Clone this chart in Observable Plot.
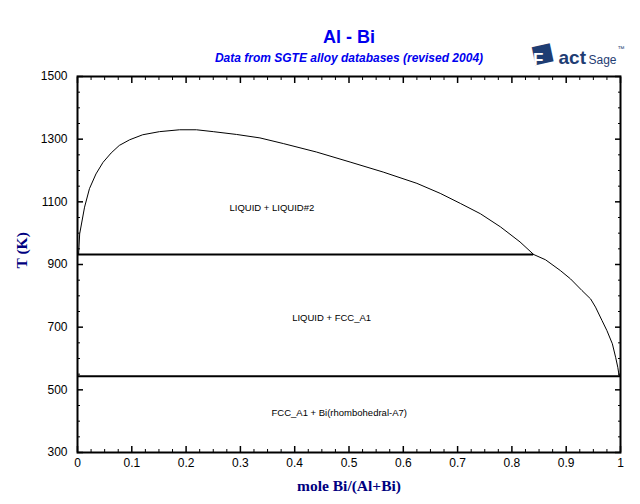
<!DOCTYPE html>
<html><head><meta charset="utf-8">
<script src="https://cdn.jsdelivr.net/npm/d3@7"></script>
<script src="https://cdn.jsdelivr.net/npm/@observablehq/plot@0.6"></script>
<style>body{margin:0;background:#fff}</style>
</head><body><div id="chart"></div>
<script>
// Miscibility gap (LIQUID + LIQUID#2) boundary
const gapX = [0.002, 0.004, 0.013, 0.022, 0.034, 0.047, 0.062, 0.077, 0.096, 0.12, 0.151, 0.188, 0.219, 0.25, 0.293, 0.336, 0.379, 0.44, 0.502, 0.563, 0.625, 0.668, 0.705, 0.742, 0.779, 0.815, 0.84];
const gapT = [932, 998, 1083, 1142, 1189, 1226, 1256, 1280, 1298, 1314, 1324, 1330, 1330, 1324, 1315, 1304, 1286, 1259, 1227, 1195, 1159, 1127, 1095, 1062, 1020, 972, 932];
// Liquidus below the monotectic
const liqX = [0.84, 0.862, 0.889, 0.908, 0.929, 0.945, 0.954, 0.966, 0.975, 0.985, 0.991, 0.995, 0.997, 0.998];
const liqT = [932, 915, 881, 854, 817, 790, 764, 721, 689, 647, 604, 572, 550, 543];
// Invariant lines
const invT = [932, 543];
const invX1 = [0, 0];
const invX2 = [0.84, 1];
// Region labels
const regionLabels = ["LIQUID + LIQUID#2", "LIQUID + FCC_A1", "FCC_A1 + Bi(rhombohedral-A7)"];
const regionX = [0.358, 0.468, 0.482];
const regionT = [1081, 729, 425];
// Ticks
const xTicks = [0, 0.1, 0.2, 0.3, 0.4, 0.5, 0.6, 0.7, 0.8, 0.9, 1];
const xMinor = d3.range(0, 41).map(i => i / 40).filter(v => Math.round(v * 40) % 4 !== 0);
const yTicks = [300, 500, 700, 900, 1100, 1300, 1500];
const yMinor = d3.range(300, 1501, 50).filter(v => (v - 300) % 200 !== 0);
const titleText = "Al - Bi";
const subtitleText = "Data from SGTE alloy databases (revised 2004)";
const xLabel = "mole Bi/(Al+Bi)";
const yLabel = "T (K)";

const gap = gapX.map((x, i) => ({x, T: gapT[i]}));
const liq = liqX.map((x, i) => ({x, T: liqT[i]}));
const inv = invT.map((T, i) => ({T, x1: invX1[i], x2: invX2[i]}));
const regions = regionLabels.map((t, i) => ({t, x: regionX[i], T: regionT[i]}));

const tickColor = "black";
const navy = "#000080";
const logo = "#1f3d73";
const sans = "Liberation Sans, Arial, sans-serif";
const serif = "Liberation Serif, Times New Roman, serif";

const chart = Plot.plot({
  width: 640, height: 504,
  marginLeft: 77, marginRight: 20, marginTop: 76, marginBottom: 52,
  style: {fontSize: "12px", fontFamily: sans, background: "white"},
  x: {domain: [0, 1], label: null},
  y: {domain: [300, 1500], label: null},
  marks: [
    Plot.ruleY(inv, {y: "T", x1: "x1", x2: "x2", stroke: "black", strokeWidth: 2}),
    Plot.line(gap, {x: "x", y: "T", stroke: "black", strokeWidth: 1, curve: "linear"}),
    Plot.line(liq, {x: "x", y: "T", stroke: "black", strokeWidth: 1, curve: "linear"}),
    Plot.text(regions, {x: "x", y: "T", text: "t", fontSize: 9.5, fill: "black", fontFamily: sans}),
    // tick labels
    Plot.axisX(xTicks, {anchor: "bottom", tickSize: 0, tickPadding: 6, label: null, tickFormat: d => String(+d.toFixed(1)), fontSize: 12, fill: "black"}),
    Plot.axisY(yTicks, {anchor: "left", tickSize: 0, tickPadding: 10, label: null, tickFormat: d => String(d), fontSize: 12, fill: "black"}),
    // inward ticks on all four sides (negative tickSize points inside the frame)
    Plot.axisX(xTicks, {anchor: "bottom", tickSize: -6, text: null, label: null, stroke: tickColor, strokeWidth: 1.5}),
    Plot.axisX(xMinor, {anchor: "bottom", tickSize: -3, text: null, label: null, stroke: tickColor}),
    Plot.axisX(xTicks, {anchor: "top", tickSize: -6, text: null, label: null, stroke: tickColor, strokeWidth: 1.5}),
    Plot.axisX(xMinor, {anchor: "top", tickSize: -3, text: null, label: null, stroke: tickColor}),
    Plot.axisY(yTicks, {anchor: "left", tickSize: -6, text: null, label: null, stroke: tickColor, strokeWidth: 1.5}),
    Plot.axisY(yMinor, {anchor: "left", tickSize: -3, text: null, label: null, stroke: tickColor}),
    Plot.axisY(yTicks, {anchor: "right", tickSize: -6, text: null, label: null, stroke: tickColor, strokeWidth: 1.5}),
    Plot.axisY(yMinor, {anchor: "right", tickSize: -3, text: null, label: null, stroke: tickColor}),
    Plot.frame({stroke: "black", strokeWidth: 2}),
    // titles
    Plot.text([titleText], {frameAnchor: "top", dy: -46, text: d => d, fontSize: 18, fontWeight: "bold", fill: "#0000ee", fontFamily: sans}),
    Plot.text([subtitleText], {frameAnchor: "top", dy: -23, text: d => d, fontSize: 12, fontWeight: "bold", fontStyle: "italic", fill: "#0000ee", fontFamily: sans}),
    Plot.text([xLabel], {frameAnchor: "bottom", dy: 38, text: d => d, fontSize: 15.5, fontWeight: "bold", fill: navy, fontFamily: serif}),
    Plot.text([yLabel], {frameAnchor: "left", dx: -55.5, dy: 4, rotate: -90, text: d => d, fontSize: 15.5, fontWeight: "bold", fill: navy, fontFamily: serif}),
    // FactSage logo (text)
    Plot.text(["■"], {frameAnchor: "top-right", dx: -70, dy: -40, rotate: -12, text: d => d, fontSize: 38, fill: logo}),
    Plot.text(["F"], {frameAnchor: "top-right", dx: -77, dy: -24, text: d => d, fontSize: 17, fontWeight: "bold", fill: "white", fontFamily: sans}),
    Plot.text(["act"], {frameAnchor: "top-right", dx: -62, dy: -13, textAnchor: "start", lineAnchor: "bottom", text: d => d, fontSize: 19, fontWeight: "bold", fill: logo, fontFamily: sans}),
    Plot.text(["Sage"], {frameAnchor: "top-right", dx: -32, dy: -13, textAnchor: "start", lineAnchor: "bottom", text: d => d, fontSize: 12, fill: logo, fontFamily: sans}),
    Plot.text(["™"], {frameAnchor: "top-right", dx: -3, dy: -30, textAnchor: "start", text: d => d, fontSize: 7, fill: logo, fontFamily: sans})
  ]
});
document.getElementById("chart").appendChild(chart);
</script>
</body></html>
